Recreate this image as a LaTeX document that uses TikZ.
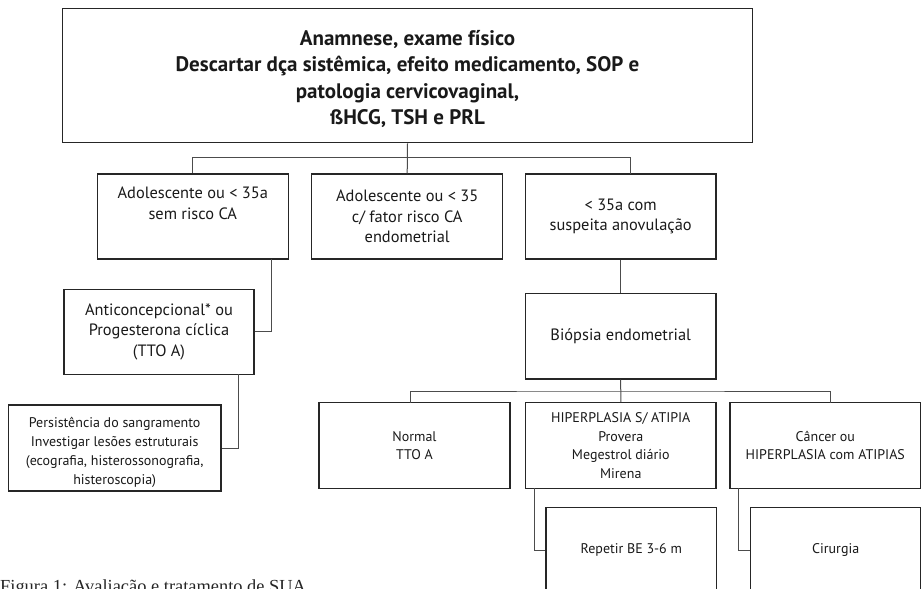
\documentclass[tikz,border=0pt]{standalone}
\usepackage{fontspec}
\setmainfont{Liberation Serif}
\newfontfamily\boxfont{PT Sans}
\usetikzlibrary{calc}
\begin{document}
\begin{tikzpicture}[x=1pt,y=-1pt,
  boxst/.style={draw=black!85,line width=1.3pt,align=center,inner sep=0pt,
    font=\boxfont\fontsize{14}{18.5}\selectfont,text=black!90},
  wide/.style={font=\boxfont\fontsize{16.4}{20.5}\selectfont},
  topst/.style={boxst,font=\boxfont\bfseries\fontsize{21}{26.5}\selectfont},
  conn/.style={draw=black!70,line width=1pt}]
\useasboundingbox (0,0) rectangle (924,589);
% top
\node[topst,minimum width=690.4pt,minimum height=134.4pt] (top) at (407.5,75.5)
  {\rule{0pt}{22pt}Anamnese, exame físico\\Descartar dça sistêmica, efeito medicamento, SOP e\\patologia cervicovaginal,\\ßHCG, TSH e PRL};
% row 1
\node[boxst,wide,minimum width=191pt,minimum height=85pt] (b1) at (192.8,216.5)
  {Adolescente ou < 35a\\sem risco CA\\\strut};
\node[boxst,wide,minimum width=191pt,minimum height=85pt] (b2) at (407.2,216.5)
  {Adolescente ou < 35\\c/ fator risco CA\\endometrial};
\node[boxst,wide,minimum width=190.7pt,minimum height=85pt] (b3) at (620.7,216.5)
  {< 35a com\\suspeita anovulação};
% row 2
\node[boxst,wide,minimum width=190pt,minimum height=85pt] (anti) at (159,331.8)
  {Anticoncepcional* ou\\Progesterona cíclica\\(TTO A)};
\node[boxst,wide,minimum width=190.7pt,minimum height=85.7pt] (bio) at (620.7,336.2)
  {Biópsia endometrial};
% row 3
\node[boxst,font=\boxfont\fontsize{14}{19}\selectfont,minimum width=212.7pt,minimum height=86pt] (pers) at (114.7,448)
  {\rule{0pt}{20pt}Persistência do sangramento\\Investigar lesões estruturais\\(ecografia, histerossonografia,\\histeroscopia)};
\node[boxst,minimum width=191pt,minimum height=85.6pt] (norm) at (414.5,445.5)
  {Normal\\TTO A};
\node[boxst,minimum width=190.3pt,minimum height=85.6pt] (hip) at (620.8,445.5)
  {HIPERPLASIA S/ ATIPIA\\Provera\\Megestrol diário\\Mirena};
\node[boxst,minimum width=190.7pt,minimum height=85.6pt] (can) at (825.3,445.5)
  {Câncer ou\\HIPERPLASIA com ATIPIAS};
% row 4
\node[boxst,minimum width=170.7pt,minimum height=85.7pt] (rep) at (631.3,550.2)
  {Repetir BE 3-6 m};
\node[boxst,minimum width=170pt,minimum height=85.7pt] (cir) at (835.7,550.2)
  {Cirurgia};
% caption
\node[anchor=base west,inner sep=0pt,font=\fontsize{18.4}{20}\selectfont,text=black!85] (cap) at (0,592.9)
  {Figura 1: Avaliação e tratamento de SUA};
% connectors
\coordinate (j1) at (407.2,157.7);
\coordinate (b3n) at (630.7,174);
\draw[conn] (top.south) -- (b2.north);
\draw[conn] (b1.north) |- (j1) -| (b3n);
\coordinate (c1) at (271.7,259);
\draw[conn] (c1) |- (anti.east);
\coordinate (c2) at (238.7,374.3);
\draw[conn] (c2) |- (pers.east);
\draw[conn] (b3.south) -- (bio.north);
\coordinate (j2) at (620.7,391);
\coordinate (nA) at (410,402.7);
\coordinate (nC) at (830,402.7);
\draw[conn] (bio.south) -- (hip.north);
\draw[conn] (nA) |- (j2) -| (nC);
\coordinate (c3) at (534.3,488.3);
\draw[conn] (c3) |- (rep.west);
\coordinate (c4) at (738.3,488.3);
\draw[conn] (c4) |- (cir.west);
\end{tikzpicture}
\end{document}
